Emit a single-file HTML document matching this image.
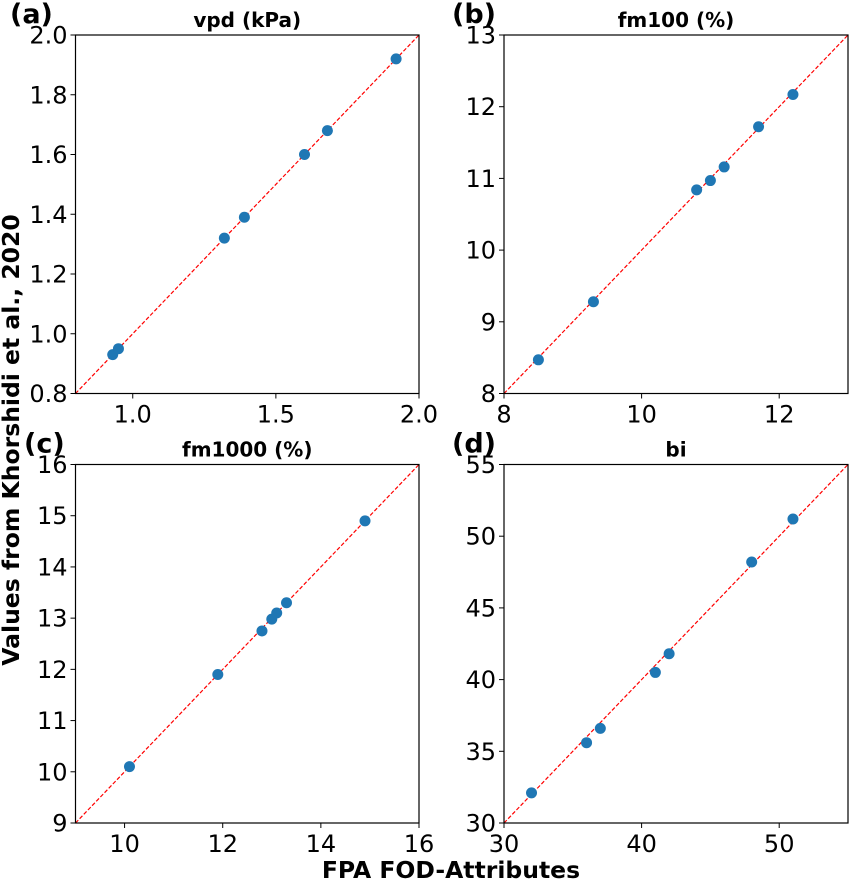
<!DOCTYPE html>
<html><head><meta charset="utf-8"><style>
body{margin:0;background:#fff;}
svg{display:block;font-family:"DejaVu Sans","Liberation Sans",sans-serif;}
</style></head><body>
<svg id="fig" width="850" height="884"></svg>
<script>
const aX=[0.93,0.95,1.32,1.39,1.60,1.68,1.92];
const aY=[0.93,0.95,1.32,1.39,1.60,1.68,1.92];
const bX=[8.5,9.3,10.8,11.0,11.2,11.7,12.2];
const bY=[8.47,9.28,10.84,10.97,11.16,11.72,12.17];
const cX=[10.1,11.9,12.8,13.0,13.1,13.3,14.9];
const cY=[10.1,11.9,12.75,12.98,13.1,13.3,14.9];
const dX=[32,36,37,41,42,48,51];
const dY=[32.1,35.6,36.6,40.5,41.8,48.2,51.2];
const aXT=["1.0","1.5","2.0"], aYT=["0.8","1.0","1.2","1.4","1.6","1.8","2.0"];
const bXT=["8","10","12"], bYT=["8","9","10","11","12","13"];
const cXT=["10","12","14","16"], cYT=["9","10","11","12","13","14","15","16"];
const dXT=["30","40","50"], dYT=["30","35","40","45","50","55"];
const NS="http://www.w3.org/2000/svg";
const svg=document.getElementById('fig');
function mk(t,a,p){const e=document.createElementNS(NS,t);for(const k in a)e.setAttribute(k,a[k]);(p||svg).appendChild(e);return e;}
const panels=[
 {id:'a',L:75.5,T:35,R:419,B:393.5,xmin:0.8,xmax:2.0,ymin:0.8,ymax:2.0,X:aX,Y:aY,xt:aXT,yt:aYT,title:'vpd (kPa)',lx:10},
 {id:'b',L:504,T:35,R:848,B:393.5,xmin:8,xmax:13,ymin:8,ymax:13,X:bX,Y:bY,xt:bXT,yt:bYT,title:'fm100 (%)',lx:452},
 {id:'c',L:75.5,T:464.5,R:419,B:823,xmin:9,xmax:16,ymin:9,ymax:16,X:cX,Y:cY,xt:cXT,yt:cYT,title:'fm1000 (%)',lx:24},
 {id:'d',L:504,T:464.5,R:848,B:823,xmin:30,xmax:55,ymin:30,ymax:55,X:dX,Y:dY,xt:dXT,yt:dYT,title:'bi',lx:452}];
panels.forEach(p=>{
 const g=mk('g',{});
 
 
 const sx=v=>p.L+(v-p.xmin)/(p.xmax-p.xmin)*(p.R-p.L);
 const sy=v=>p.B-(v-p.ymin)/(p.ymax-p.ymin)*(p.B-p.T);
 const ln=mk('line',{x1:sx(p.xmin),y1:sy(p.ymin),x2:sx(p.xmax),y2:sy(p.ymax),stroke:'#f00','stroke-width':1.2,'stroke-dasharray':'4,2'},g);
 
 
 p.X.forEach((x,i)=>{
  const c=mk('circle',{cx:sx(x),cy:sy(p.Y[i]),r:5.5,fill:'#1f77b4'},g);
  
  
 });
 const fr=mk('rect',{x:p.L,y:p.T,width:p.R-p.L,height:p.B-p.T,fill:'none',stroke:'#000','stroke-width':1.2},g);
 
 
 p.xt.forEach(t=>{const x=sx(+t);
  mk('line',{x1:x,y1:p.B,x2:x,y2:p.B+5,stroke:'#000','stroke-width':1},g);
  const tx=mk('text',{x:x,y:p.B+29,'text-anchor':'middle','font-size':24},g);tx.textContent=t;
  
  });
 p.yt.forEach(t=>{const y=sy(+t);
  mk('line',{x1:p.L-5,y1:y,x2:p.L,y2:y,stroke:'#000','stroke-width':1},g);
  const tx=mk('text',{x:p.L-8,y:y+8.5,'text-anchor':'end','font-size':24},g);tx.textContent=t;
  
  });
 const ti=mk('text',{x:(p.L+p.R)/2,y:p.T-8,'text-anchor':'middle','font-size':20,'font-weight':'bold'},g);ti.textContent=p.title;
 
 
 const lb=mk('text',{x:p.lx,y:p.T-12,'font-size':27,'font-weight':'bold'},g);lb.textContent='('+p.id+')';
 
 
});
const xl=mk('text',{x:451,y:884-6,'text-anchor':'middle','font-size':23.5,'font-weight':'bold'});xl.textContent='FPA FOD-Attributes';


const yl=mk('text',{x:0,y:0,'text-anchor':'middle','font-size':23.5,'font-weight':'bold',transform:'translate(19,440) rotate(-90)'});yl.textContent='Values from Khorshidi et al., 2020';


</script>
</body></html>
